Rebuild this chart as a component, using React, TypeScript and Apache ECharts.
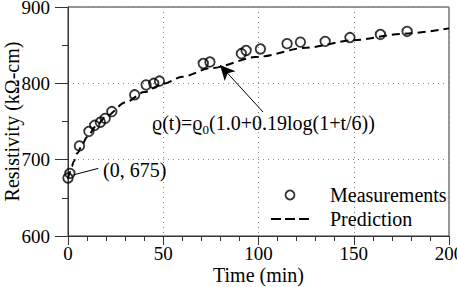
import React, { useEffect, useRef } from "react";
import * as echarts from "echarts";

// Measurements (time in min, resistivity in kΩ-cm)
const measTime = [0, 1, 6, 11, 14, 17, 19.5, 23, 35, 41, 45, 48, 71, 74.5, 91, 93.5, 101, 115, 122, 135, 148, 164, 178];
const measRes = [676, 682, 718, 737, 745, 749, 754, 763, 785, 798, 800, 803, 826, 828, 839, 843, 845, 852, 854, 855, 860, 864, 868];

// Prediction curve values
const predTime = [0, 1, 2, 3, 5, 7.5, 10, 15, 20, 30, 40, 50, 60, 75, 100, 125, 150, 175, 200];
const predRes = [675, 683.6, 691.0, 697.6, 708.8, 720.2, 729.6, 744.8, 756.7, 774.8, 788.5, 799.4, 808.6, 820.0, 834.9, 846.7, 856.5, 864.7, 872.0];

// Axis ranges / ticks
const xMin = 0, xMax = 200, xStep = 50;
const yMin = 600, yMax = 900, yStep = 100;

// Annotations
const startLabel = "(0, 675)";
const startLeader = [[2.8, 680], [15.9, 688.6]];
const startLabelAnchor = [18.4, 686];
const formulaAnchor = [44.1, 748];
const arrowFrom = [102.4, 762.4];
const arrowTo = [79.8, 824];

const FONT = "Liberation Serif, serif";
const DASH_ICON = "path://M0,0L10,0L10,2L0,2ZM14,0L24,0L24,2L14,2ZM28,0L38,0L38,2L28,2Z";

export default function App() {
  const ref = useRef<HTMLDivElement>(null);
  useEffect(() => {
    const chart = echarts.init(ref.current!, null, { renderer: "svg" });
    const axisColor = "#333";
    const tickText = { fontFamily: FONT, fontSize: 19, color: "#000", fontWeight: "normal" as const };
    const nameText = { fontFamily: FONT, fontSize: 20, color: "#000", fontWeight: "normal" as const };
    chart.setOption({
      animation: false,
      backgroundColor: "#fff",
      textStyle: { fontFamily: FONT },
      grid: {
        left: 68, top: 7, right: 8, bottom: 51,
        outerBoundsMode: "none",
        containLabel: false,
        show: true, borderColor: axisColor, borderWidth: 1, backgroundColor: "transparent",
      },
      legend: {
        orient: "vertical",
        left: 271,
        top: 185,
        padding: 0,
        itemWidth: 38,
        itemHeight: 9,
        itemGap: 4,
        selectedMode: false,
        symbolKeepAspect: true,
        textStyle: { fontFamily: FONT, fontSize: 20, color: "#000", padding: [0, 0, 0, 16], lineHeight: 20 },
        data: [
          { name: "Measurements", icon: "circle", itemStyle: { color: "rgba(255,255,255,0)", borderColor: "#000", borderWidth: 1.8 } },
          { name: "Prediction", icon: DASH_ICON, itemStyle: { color: "#000", borderWidth: 0 } },
        ],
      },
      xAxis: {
        type: "value",
        min: xMin, max: xMax, interval: xStep,
        name: "Time (min)",
        nameLocation: "middle",
        nameGap: 29,
        nameMoveOverlap: false,
        nameTextStyle: nameText,
        axisLine: { show: true, onZero: false, lineStyle: { color: axisColor, width: 1 } },
        axisTick: { show: true, length: 9, lineStyle: { color: axisColor } },
        minorTick: { show: true, splitNumber: 5, length: 5, lineStyle: { color: axisColor } },
        axisLabel: { ...tickText, margin: 8 },
        splitLine: { show: true, lineStyle: { color: "#888", width: 1, type: [1, 4] } },
      },
      yAxis: {
        type: "value",
        min: yMin, max: yMax, interval: yStep,
        name: "Resistivity (kΩ-cm)",
        nameLocation: "middle",
        nameGap: 46,
        nameMoveOverlap: false,
        nameTextStyle: nameText,
        axisLine: { show: true, onZero: false, lineStyle: { color: axisColor, width: 1 } },
        axisTick: { show: true, length: 13, lineStyle: { color: axisColor } },
        minorTick: { show: true, splitNumber: 2, length: 6, lineStyle: { color: axisColor } },
        axisLabel: { ...tickText, margin: 18 },
        splitLine: { show: true, lineStyle: { color: "#888", width: 1, type: [1, 4] } },
      },
      series: [
        {
          name: "Prediction",
          type: "line",
          data: predTime.map((t, i) => [t, predRes[i]]),
          symbol: "none",
          smooth: 0.3,
          smoothMonotone: "x",
          lineStyle: { color: "#000", width: 2, type: [8, 5] },
          itemStyle: { color: "#000" },
          z: 2,
          markLine: {
            silent: true,
            animation: false,
            label: { show: false },
            lineStyle: { color: "#000", width: 1, type: "solid" },
            data: [
              [
                { coord: arrowFrom, symbol: "none" },
                { coord: arrowTo, symbol: "arrow", symbolSize: [11, 15] },
              ],
              [
                { coord: startLeader[0], symbol: "none" },
                { coord: startLeader[1], symbol: "none" },
              ],
            ],
          },
        },
        {
          name: "Measurements",
          type: "scatter",
          data: measTime.map((t, i) => [t, measRes[i]]),
          symbol: "circle",
          symbolSize: 9.5,
          itemStyle: { color: "rgba(255,255,255,0)", borderColor: "#000", borderWidth: 1.8 },
          z: 3,
        },
      ],
    });

    const fp = chart.convertToPixel({ gridIndex: 0 }, formulaAnchor) as number[];
    const sp = chart.convertToPixel({ gridIndex: 0 }, startLabelAnchor) as number[];
    chart.setOption({
      graphic: [
        {
          type: "text",
          x: sp[0], y: sp[1],
          style: {
            text: startLabel,
            fontFamily: FONT, fontSize: 20, fill: "#000",
            align: "left", verticalAlign: "middle",
          },
          z: 10,
        },
        {
          type: "text",
          x: fp[0], y: fp[1],
          style: {
            text: "{a|ϱ(t)=ϱ}{s|0}{a|(1.0+0.19log(1+t/6))}",
            fontFamily: FONT,
            align: "left", verticalAlign: "middle",
            rich: {
              a: { fontFamily: FONT, fontSize: 20, fill: "#000", color: "#000", lineHeight: 22, verticalAlign: "middle" },
              s: { fontFamily: FONT, fontSize: 13, fill: "#000", color: "#000", lineHeight: 26, verticalAlign: "bottom" },
            },
          },
          z: 10,
        },
      ],
    });
    return () => chart.dispose();
  }, []);
  return <div ref={ref} style={{ position: "fixed", left: 0, top: 0, width: 457, height: 287 }} />;
}
